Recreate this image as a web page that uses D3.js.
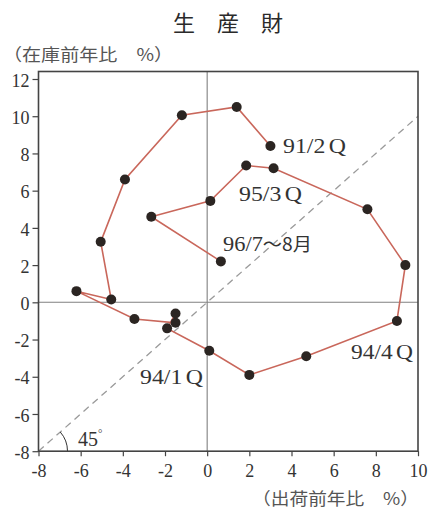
<!DOCTYPE html>
<html><head><meta charset="utf-8">
<script src="https://cdn.jsdelivr.net/npm/d3@7"></script>
<style>
html,body{margin:0;padding:0;background:#fff;}
svg{display:block;}
</style></head>
<body>
<svg id="chart" width="430" height="509"></svg>
<script>
// ---- data ----
const periods = ["91/2Q","91/3Q","91/4Q","92/1Q","92/2Q","92/3Q","92/4Q","93/1Q","93/2Q","93/3Q","93/4Q",
  "94/1Q","94/2Q","94/3Q","94/4Q","95/1Q","95/2Q","95/3Q","95/4Q","96/1Q","96/2Q","96/7~8"];
const shipments = [3.0, 1.4, -1.2, -3.9, -5.05, -4.55, -6.2, -3.45, -1.5, -1.5, -1.9,
  0.1, 2.0, 4.7, 9.0, 9.4, 7.6, 3.15, 1.85, 0.15, -2.65, 0.65];
const inventory = [8.4, 10.5, 10.05, 6.6, 3.25, 0.15, 0.6, -0.9, -1.1, -0.6, -1.4,
  -2.6, -3.9, -2.9, -1.0, 2.0, 5.0, 7.2, 7.35, 5.45, 4.6, 2.2];
const xTicks = [-8,-6,-4,-2,0,2,4,6,8,10];
const yTicks = [-8,-6,-4,-2,0,2,4,6,8,10,12];
const annotations = [
  {idx:0, text:"91/2", suffix:"Q"},
  {idx:17, text:"95/3", suffix:"Q"},
  {idx:21, text:"96/7", suffix:"～8月"},
  {idx:14, text:"94/4", suffix:"Q"},
  {idx:11, text:"94/1", suffix:"Q"}
];
const title = "生　産　財";
const yTitle = "（在庫前年比　%）";
const xTitle = "（出荷前年比　%）";

// ---- layout ----
const svg = d3.select("#chart");
const x = d3.scaleLinear().domain([-8,10]).range([38.5,418]);
const y = d3.scaleLinear().domain([-8,12]).range([451.2,79]);
const frameTop = 71.5;
const serif = "'Liberation Serif','DejaVu Serif',serif";
const cjk = "'Noto Sans CJK JP',sans-serif";
const ink = "#333";

// zero lines
svg.append("line").attr("x1",x(0)).attr("x2",x(0)).attr("y1",frameTop).attr("y2",y(-8))
  .attr("stroke","#808080").attr("stroke-width",1.1);
svg.append("line").attr("x1",x(-8)).attr("x2",x(10)).attr("y1",y(0)).attr("y2",y(0))
  .attr("stroke","#808080").attr("stroke-width",1.1);

// 45 degree line
svg.append("line").attr("x1",x(-8)).attr("y1",y(-8)).attr("x2",x(10)).attr("y2",y(10))
  .attr("stroke","#9a9a9a").attr("stroke-width",1.3).attr("stroke-dasharray","7,5");

// angle arc
const r = 29;
const cx = x(-8), cy = y(-8);
const ang = Math.atan2(y(-8)-y(10), x(10)-x(-8));
svg.append("path")
  .attr("d", `M${cx+r},${cy} A${r},${r} 0 0 0 ${cx+r*Math.cos(ang)},${cy-r*Math.sin(ang)}`)
  .attr("fill","none").attr("stroke",ink).attr("stroke-width",1);
const t45 = svg.append("text").attr("x",78).attr("y",446).attr("font-family",serif)
  .attr("font-size",20).attr("fill",ink).text("45");
t45.append("tspan").attr("font-size",11).attr("dy",-9).text("°");

// frame
svg.append("rect").attr("x",x(-8)).attr("y",frameTop).attr("width",x(10)-x(-8))
  .attr("height",y(-8)-frameTop).attr("fill","none").attr("stroke","#444").attr("stroke-width",1.6);

// axes
const xAxis = svg.append("g").attr("transform",`translate(0,${y(-8)})`)
  .call(d3.axisBottom(x).tickValues(xTicks).tickSize(5).tickPadding(8).tickFormat(d3.format("d")));
const yAxis = svg.append("g").attr("transform",`translate(${x(-8)},0)`)
  .call(d3.axisLeft(y).tickValues(yTicks).tickSize(6).tickPadding(3).tickFormat(d3.format("d")));
[xAxis,yAxis].forEach(g=>{
  g.select(".domain").remove();
  g.selectAll(".tick line").attr("stroke","#444").attr("stroke-width",1.2);
  g.selectAll(".tick text").attr("font-family",serif).attr("font-size",18).attr("fill",ink);
});
xAxis.selectAll(".tick text").text(d=> d<0 ? "-"+Math.abs(d) : d);
yAxis.selectAll(".tick text").text(d=> d<0 ? "-"+Math.abs(d) : d).attr("dy","0.4em");

// path
const pts = shipments.map((s,i)=>[s, inventory[i]]);
svg.append("path").datum(pts)
  .attr("d", d3.line().x(d=>x(d[0])).y(d=>y(d[1])))
  .attr("fill","none").attr("stroke","#c9675b").attr("stroke-width",1.6);
svg.selectAll("circle.pt").data(pts).join("circle").attr("class","pt")
  .attr("cx",d=>x(d[0])).attr("cy",d=>y(d[1])).attr("r",5).attr("fill","#2b2522");

// annotation labels
const labelPos = {0:[283,153,63],17:[239,201,63],21:[223,251,89],14:[351,359,62],11:[140,384,63]};
annotations.forEach(a=>{
  const p = labelPos[a.idx];
  const t = svg.append("text").attr("x",p[0]).attr("y",p[1]).attr("font-family",serif)
    .attr("font-size",21).attr("fill",ink);
  t.append("tspan").text(a.text);
  if (a.suffix==="Q") {
    t.append("tspan").attr("dx",3).text("Q");
  } else {
    t.append("tspan").attr("font-family",cjk).attr("font-size",18).text(a.suffix);
  }
  t.attr("textLength",p[2]).attr("lengthAdjust","spacingAndGlyphs");
});

// titles
svg.append("text").attr("x",228).attr("y",31).attr("text-anchor","middle")
  .attr("font-family",cjk).attr("font-size",22).attr("fill","#2a2a2a").text(title);
svg.append("text").attr("x",3).attr("y",61).attr("font-family",cjk).attr("font-size",17)
  .attr("fill","#555").attr("textLength",170).attr("lengthAdjust","spacingAndGlyphs").text(yTitle);
svg.append("text").attr("x",252).attr("y",505).attr("font-family",cjk).attr("font-size",17)
  .attr("fill","#555").attr("textLength",167).attr("lengthAdjust","spacingAndGlyphs").text(xTitle);
</script>
</body></html>
